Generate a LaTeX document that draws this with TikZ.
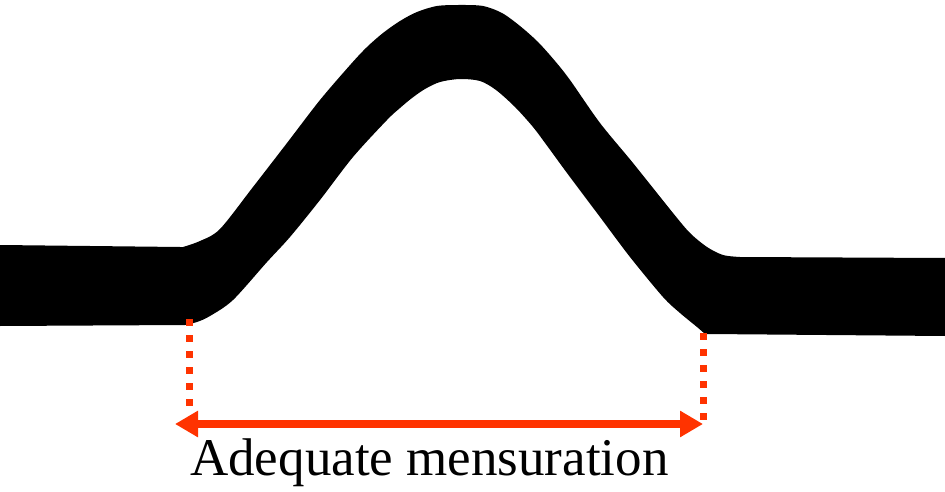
\documentclass[tikz,border=0pt]{standalone}
\usepackage{fontspec}
\setmainfont{Liberation Serif}
\usetikzlibrary{arrows.meta}
\definecolor{mred}{RGB}{255,51,0}
\tikzset{
  bandfill/.style={fill=black, draw=none},
  dotline/.style={draw=mred, line width=7pt, dash pattern=on 7pt off 9pt},
  measure/.style={draw=mred, line width=8pt, {Triangle[length=23pt,width=25pt]}-{Triangle[length=23pt,width=25pt]}},
  caption/.style={inner sep=0pt, font=\fontsize{53}{60}\selectfont, anchor=base west}
}
\begin{document}
\begin{tikzpicture}[x=1pt,y=-1pt]
\useasboundingbox (0,0) rectangle (945,492);
% black bump band
\path[bandfill] (0,245) -- (180,247)
  -- plot[smooth, tension=0.5] coordinates {(183,247) (200,241) (220,229) (253,187) (287,143) (320,100) (351,64) (367,47) (383,33) (400,21) (417,12) (437,6) (460,5) (483,6) (502,13) (520,26) (538,42) (555,61) (570,80) (600,123) (633,163) (673,213) (690,233) (707,247) (723,255) (740,257)}
  -- (945,258) -- (945,336) -- (708,334)
  -- plot[smooth, tension=0.5] coordinates {(705,334) (697,327) (680,313) (663,297) (630,257) (600,217) (567,173) (548,147) (533,127) (515,107) (496,90) (480,81) (460,79) (440,82) (425,89) (412,98) (400,108) (387,120) (353,157) (320,200) (290,237) (267,262) (233,300) (210,316) (197,322) (185,325)}
  -- (0,326) -- cycle;
% coordinates
\coordinate (dLtop) at (189,319);
\coordinate (dLbot) at (189,407);
\coordinate (dRtop) at (703,333);
\coordinate (dRbot) at (703,421);
\coordinate (aL) at (175,424);
\coordinate (aR) at (703,424);
% dotted guides
\draw[dotline] (dLtop) -- (dLbot);
\draw[dotline] (dRtop) -- (dRbot);
% measurement arrow
\draw[measure] (aL) -- (aR);
% caption
\node[caption] (cap) at (190,475) {Adequate mensuration};
\end{tikzpicture}
\end{document}
